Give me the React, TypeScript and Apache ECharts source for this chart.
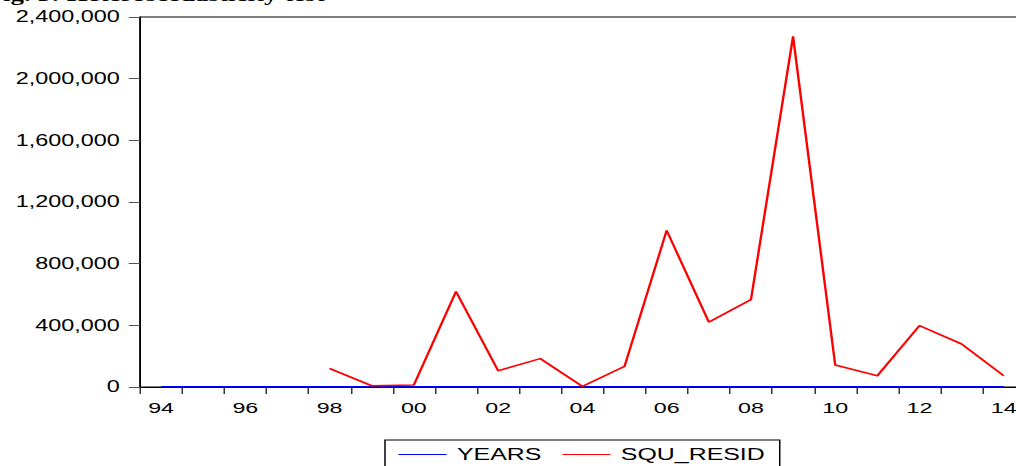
import React, { useEffect, useRef } from "react";
import * as echarts from "echarts";

// Horizontal stretch of the original EViews export
const STRETCH = 1.5;

const categories = ["94","95","96","97","98","99","00","01","02","03","04","05","06","07","08","09","10","11","12","13","14"];
const yearsValues = [1994,1995,1996,1997,1998,1999,2000,2001,2002,2003,2004,2005,2006,2007,2008,2009,2010,2011,2012,2013,2014];
const squResidValues: (number | null)[] = [null,null,null,null,120000,8000,13000,620000,106000,184000,4000,134000,1016000,421000,566000,2274000,143000,73000,398000,279000,73000];
const yMin = 0;
const yMax = 2400000;
const yInterval = 400000;
const seriesNames = ["YEARS", "SQU_RESID"];
const titleText = "Fig. 3: Heteroscedasticity test";

export default function App() {
  const ref = useRef<HTMLDivElement>(null);
  useEffect(() => {
    if (!ref.current) return;
    const chart = echarts.init(ref.current, null, { renderer: "svg" });
    const font = "'Liberation Sans', Arial, sans-serif";
    chart.setOption({
      animation: false,
      backgroundColor: "#fff",
      grid: {
        left: 140 / STRETCH,
        top: 17,
        width: 884.8 / STRETCH,
        height: 370,
        show: true,
        borderColor: "#000",
        borderWidth: 1,
        backgroundColor: "transparent",
      },
      graphic: [
        {
          type: "text",
          x: -9,
          y: 3.8,
          silent: true,
          style: {
            text: titleText,
            font: "bold 18px 'Liberation Serif', 'Times New Roman', serif",
            fill: "#000",
            verticalAlign: "bottom",
          },
        },
      ],
      legend: {
        data: seriesNames.map((name) => ({ name, icon: "rect" })),
        left: 385 / STRETCH,
        top: 440,
        orient: "horizontal",
        borderColor: "#000",
        borderWidth: 1,
        borderRadius: 0,
        padding: [6, 10, 8, 9],
        itemWidth: 32,
        itemHeight: 1.2,
        itemGap: 14,
        textStyle: { fontSize: 16.6, fontFamily: font, color: "#000", padding: [0, 0, 0, 2] },
      },
      xAxis: {
        type: "category",
        data: categories,
        boundaryGap: true,
        axisLine: { show: true, lineStyle: { color: "#000", width: 1 } },
        axisTick: { show: true, interval: 0, length: 7, lineStyle: { color: "#333" } },
        axisLabel: { interval: 1, color: "#000", fontSize: 15.5, fontFamily: font, margin: 13 },
        splitLine: { show: false },
      },
      yAxis: {
        type: "value",
        min: yMin,
        max: yMax,
        interval: yInterval,
        axisLine: { show: true, lineStyle: { color: "#000", width: 1 } },
        axisTick: { show: true, length: 7.5, lineStyle: { color: "#555" } },
        axisLabel: {
          color: "#000",
          fontSize: 15.6,
          fontFamily: font,
          margin: 13.5,
          formatter: (v: number) => v.toLocaleString("en-US"),
        },
        splitLine: { show: false },
      },
      series: [
        {
          name: seriesNames[0],
          type: "line",
          data: yearsValues,
          symbol: "none",
          lineStyle: { color: "#0000ff", width: 1.5 },
          itemStyle: { color: "#0000ff" },
        },
        {
          name: seriesNames[1],
          type: "line",
          data: squResidValues,
          symbol: "none",
          connectNulls: false,
          lineStyle: { color: "#ff0000", width: 1.6 },
          itemStyle: { color: "#ff0000" },
        },
      ],
    });
    return () => chart.dispose();
  }, []);

  return (
    <div
      style={{
        position: "absolute",
        left: 0,
        top: 0,
        width: 1016,
        height: 466,
        overflow: "hidden",
        background: "#fff",
      }}
    >
      <div
        ref={ref}
        style={{
          width: 700,
          height: 466,
          transform: `scaleX(${STRETCH})`,
          transformOrigin: "0 0",
        }}
      />
    </div>
  );
}
